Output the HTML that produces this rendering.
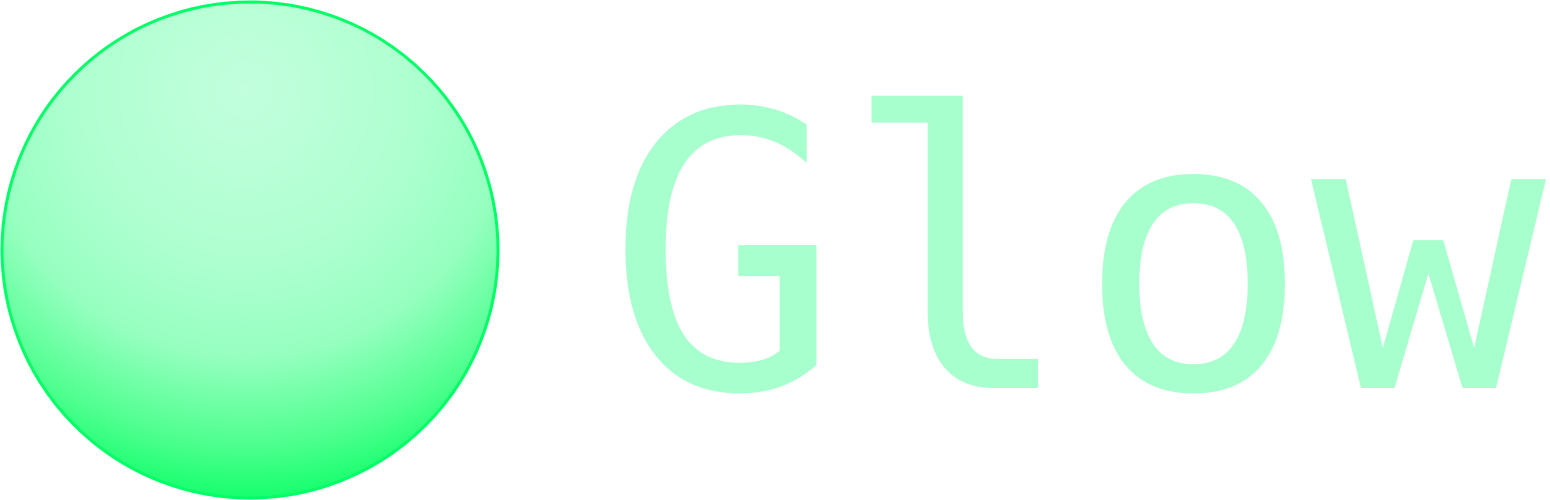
<!DOCTYPE html>
<html><head><meta charset="utf-8"><style>html,body{margin:0;padding:0;background:#fff;}svg{display:block}</style></head>
<body>
<svg width="1550" height="500" viewBox="0 0 1550 500" xmlns="http://www.w3.org/2000/svg">
<defs>
<radialGradient id="g" gradientUnits="userSpaceOnUse" cx="245" cy="90" r="430" fx="245" fy="90">
<stop offset="0" stop-color="#c2ffdd"/>
<stop offset="0.4" stop-color="#aeffd0"/>
<stop offset="0.62" stop-color="#96ffc0"/>
<stop offset="0.82" stop-color="#50ff90"/>
<stop offset="1" stop-color="#00ff60"/>
</radialGradient>
</defs>
<circle cx="250" cy="250" r="248" fill="url(#g)" stroke="#00ff66" stroke-width="3"/>
<text x="606" y="388" font-family="DejaVu Sans Mono, Liberation Mono, monospace" font-size="382" fill="#a6ffcc" textLength="940" lengthAdjust="spacingAndGlyphs">Glow</text>
</svg>
</body></html>
